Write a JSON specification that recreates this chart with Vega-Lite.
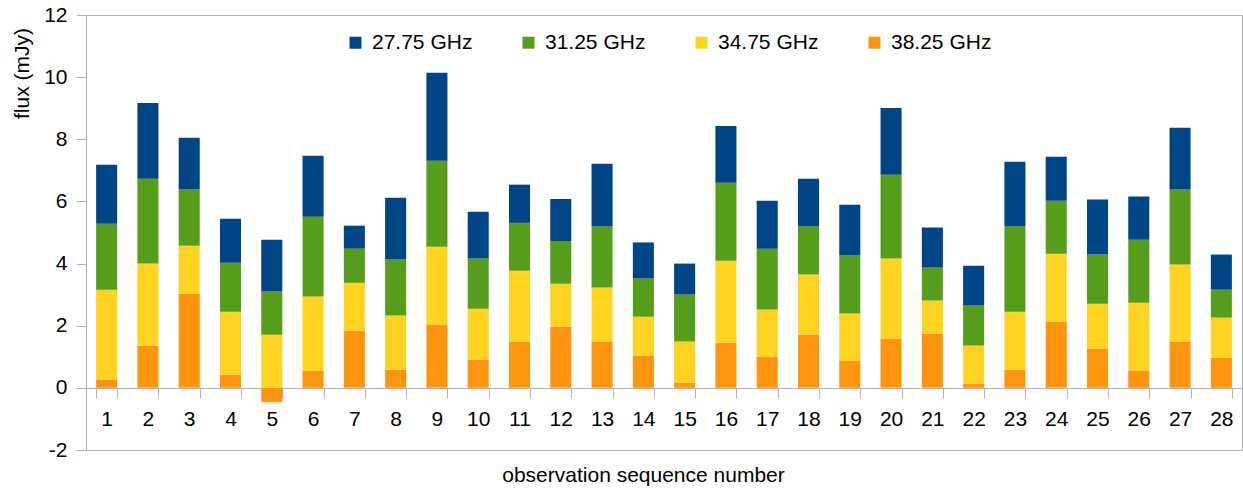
{
  "$schema": "https://vega.github.io/schema/vega-lite/v6.json",
  "autosize": {"type": "none"},
  "padding": {"left": 86, "top": 15, "right": 1, "bottom": 41},
  "width": 1156,
  "height": 435,
  "background": "white",
  "config": {
    "font": "Liberation Sans",
    "view": {"stroke": "#b3b3b3", "strokeWidth": 1}
  },
  "data": {
    "values": [
      {"obs":1,"freq":"38.25 GHz","flux":0.27},{"obs":1,"freq":"34.75 GHz","flux":2.89},{"obs":1,"freq":"31.25 GHz","flux":2.12},{"obs":1,"freq":"27.75 GHz","flux":1.90},
      {"obs":2,"freq":"38.25 GHz","flux":1.36},{"obs":2,"freq":"34.75 GHz","flux":2.64},{"obs":2,"freq":"31.25 GHz","flux":2.73},{"obs":2,"freq":"27.75 GHz","flux":2.44},
      {"obs":3,"freq":"38.25 GHz","flux":3.03},{"obs":3,"freq":"34.75 GHz","flux":1.54},{"obs":3,"freq":"31.25 GHz","flux":1.81},{"obs":3,"freq":"27.75 GHz","flux":1.67},
      {"obs":4,"freq":"38.25 GHz","flux":0.43},{"obs":4,"freq":"34.75 GHz","flux":2.02},{"obs":4,"freq":"31.25 GHz","flux":1.58},{"obs":4,"freq":"27.75 GHz","flux":1.41},
      {"obs":5,"freq":"38.25 GHz","flux":-0.46},{"obs":5,"freq":"34.75 GHz","flux":1.71},{"obs":5,"freq":"31.25 GHz","flux":1.39},{"obs":5,"freq":"27.75 GHz","flux":1.67},
      {"obs":6,"freq":"38.25 GHz","flux":0.56},{"obs":6,"freq":"34.75 GHz","flux":2.38},{"obs":6,"freq":"31.25 GHz","flux":2.57},{"obs":6,"freq":"27.75 GHz","flux":1.96},
      {"obs":7,"freq":"38.25 GHz","flux":1.84},{"obs":7,"freq":"34.75 GHz","flux":1.54},{"obs":7,"freq":"31.25 GHz","flux":1.10},{"obs":7,"freq":"27.75 GHz","flux":0.74},
      {"obs":8,"freq":"38.25 GHz","flux":0.59},{"obs":8,"freq":"34.75 GHz","flux":1.74},{"obs":8,"freq":"31.25 GHz","flux":1.80},{"obs":8,"freq":"27.75 GHz","flux":1.99},
      {"obs":9,"freq":"38.25 GHz","flux":2.04},{"obs":9,"freq":"34.75 GHz","flux":2.50},{"obs":9,"freq":"31.25 GHz","flux":2.77},{"obs":9,"freq":"27.75 GHz","flux":2.83},
      {"obs":10,"freq":"38.25 GHz","flux":0.91},{"obs":10,"freq":"34.75 GHz","flux":1.64},{"obs":10,"freq":"31.25 GHz","flux":1.61},{"obs":10,"freq":"27.75 GHz","flux":1.51},
      {"obs":11,"freq":"38.25 GHz","flux":1.49},{"obs":11,"freq":"34.75 GHz","flux":2.28},{"obs":11,"freq":"31.25 GHz","flux":1.54},{"obs":11,"freq":"27.75 GHz","flux":1.23},
      {"obs":12,"freq":"38.25 GHz","flux":1.97},{"obs":12,"freq":"34.75 GHz","flux":1.38},{"obs":12,"freq":"31.25 GHz","flux":1.38},{"obs":12,"freq":"27.75 GHz","flux":1.35},
      {"obs":13,"freq":"38.25 GHz","flux":1.49},{"obs":13,"freq":"34.75 GHz","flux":1.74},{"obs":13,"freq":"31.25 GHz","flux":1.96},{"obs":13,"freq":"27.75 GHz","flux":2.02},
      {"obs":14,"freq":"38.25 GHz","flux":1.04},{"obs":14,"freq":"34.75 GHz","flux":1.25},{"obs":14,"freq":"31.25 GHz","flux":1.23},{"obs":14,"freq":"27.75 GHz","flux":1.16},
      {"obs":15,"freq":"38.25 GHz","flux":0.17},{"obs":15,"freq":"34.75 GHz","flux":1.32},{"obs":15,"freq":"31.25 GHz","flux":1.51},{"obs":15,"freq":"27.75 GHz","flux":1.00},
      {"obs":16,"freq":"38.25 GHz","flux":1.46},{"obs":16,"freq":"34.75 GHz","flux":2.63},{"obs":16,"freq":"31.25 GHz","flux":2.51},{"obs":16,"freq":"27.75 GHz","flux":1.83},
      {"obs":17,"freq":"38.25 GHz","flux":1.01},{"obs":17,"freq":"34.75 GHz","flux":1.51},{"obs":17,"freq":"31.25 GHz","flux":1.96},{"obs":17,"freq":"27.75 GHz","flux":1.54},
      {"obs":18,"freq":"38.25 GHz","flux":1.72},{"obs":18,"freq":"34.75 GHz","flux":1.93},{"obs":18,"freq":"31.25 GHz","flux":1.54},{"obs":18,"freq":"27.75 GHz","flux":1.54},
      {"obs":19,"freq":"38.25 GHz","flux":0.88},{"obs":19,"freq":"34.75 GHz","flux":1.51},{"obs":19,"freq":"31.25 GHz","flux":1.87},{"obs":19,"freq":"27.75 GHz","flux":1.63},
      {"obs":20,"freq":"38.25 GHz","flux":1.59},{"obs":20,"freq":"34.75 GHz","flux":2.57},{"obs":20,"freq":"31.25 GHz","flux":2.70},{"obs":20,"freq":"27.75 GHz","flux":2.15},
      {"obs":21,"freq":"38.25 GHz","flux":1.75},{"obs":21,"freq":"34.75 GHz","flux":1.06},{"obs":21,"freq":"31.25 GHz","flux":1.06},{"obs":21,"freq":"27.75 GHz","flux":1.29},
      {"obs":22,"freq":"38.25 GHz","flux":0.14},{"obs":22,"freq":"34.75 GHz","flux":1.22},{"obs":22,"freq":"31.25 GHz","flux":1.29},{"obs":22,"freq":"27.75 GHz","flux":1.28},
      {"obs":23,"freq":"38.25 GHz","flux":0.59},{"obs":23,"freq":"34.75 GHz","flux":1.86},{"obs":23,"freq":"31.25 GHz","flux":2.74},{"obs":23,"freq":"27.75 GHz","flux":2.09},
      {"obs":24,"freq":"38.25 GHz","flux":2.13},{"obs":24,"freq":"34.75 GHz","flux":2.19},{"obs":24,"freq":"31.25 GHz","flux":1.70},{"obs":24,"freq":"27.75 GHz","flux":1.42},
      {"obs":25,"freq":"38.25 GHz","flux":1.26},{"obs":25,"freq":"34.75 GHz","flux":1.45},{"obs":25,"freq":"31.25 GHz","flux":1.58},{"obs":25,"freq":"27.75 GHz","flux":1.77},
      {"obs":26,"freq":"38.25 GHz","flux":0.56},{"obs":26,"freq":"34.75 GHz","flux":2.18},{"obs":26,"freq":"31.25 GHz","flux":2.03},{"obs":26,"freq":"27.75 GHz","flux":1.39},
      {"obs":27,"freq":"38.25 GHz","flux":1.49},{"obs":27,"freq":"34.75 GHz","flux":2.48},{"obs":27,"freq":"31.25 GHz","flux":2.41},{"obs":27,"freq":"27.75 GHz","flux":1.99},
      {"obs":28,"freq":"38.25 GHz","flux":0.97},{"obs":28,"freq":"34.75 GHz","flux":1.29},{"obs":28,"freq":"31.25 GHz","flux":0.90},{"obs":28,"freq":"27.75 GHz","flux":1.13}
    ]
  },
  "mark": {"type": "bar"},
  "encoding": {
    "x": {
      "field": "obs",
      "type": "ordinal",
      "scale": {"paddingInner": 0.49, "paddingOuter": 0.245},
      "axis": {
        "title": "observation sequence number",
        "offset": -62,
        "labelAngle": 0,
        "labelFontSize": 21,
        "labelColor": "#000000",
        "labelPadding": 10,
        "tickBand": "extent",
        "tickSize": 10,
        "tickColor": "#b3b3b3",
        "domainColor": "#b3b3b3",
        "titleFontSize": 21,
        "titleFontWeight": "normal",
        "titleColor": "#000000",
        "titleBaseline": "alphabetic",
        "titleAlign": "center",
        "titleX": 557,
        "titleY": 93
      }
    },
    "y": {
      "field": "flux",
      "type": "quantitative",
      "stack": "zero",
      "scale": {"domain": [-2, 12], "nice": false, "zero": false},
      "axis": {
        "values": [-2, 0, 2, 4, 6, 8, 10, 12],
        "labelExpr": "'' + datum.value",
        "grid": false,
        "title": "flux (mJy)",
        "labelFontSize": 21,
        "labelColor": "#000000",
        "labelPadding": 9,
        "tickSize": 10,
        "tickColor": "#b3b3b3",
        "domainColor": "#b3b3b3",
        "titleFontSize": 21,
        "titleFontWeight": "normal",
        "titleColor": "#000000",
        "titleAngle": -90,
        "titleX": -64,
        "titleY": 58,
        "titleAlign": "center",
        "titleBaseline": "middle"
      }
    },
    "color": {
      "field": "freq",
      "type": "nominal",
      "scale": {
        "domain": ["27.75 GHz", "31.25 GHz", "34.75 GHz", "38.25 GHz"],
        "range": ["#004586", "#579d1c", "#ffd320", "#ff950e"]
      },
      "legend": {
        "title": null,
        "orient": "none",
        "direction": "horizontal",
        "legendX": 259,
        "legendY": 17,
        "padding": 0,
        "columnPadding": 45,
        "symbolType": "square",
        "symbolSize": 144,
        "symbolStrokeWidth": 0,
        "labelFontSize": 21,
        "labelColor": "#000000",
        "labelOffset": 6
      }
    },
    "order": {"field": "freq", "sort": "descending"}
  }
}
